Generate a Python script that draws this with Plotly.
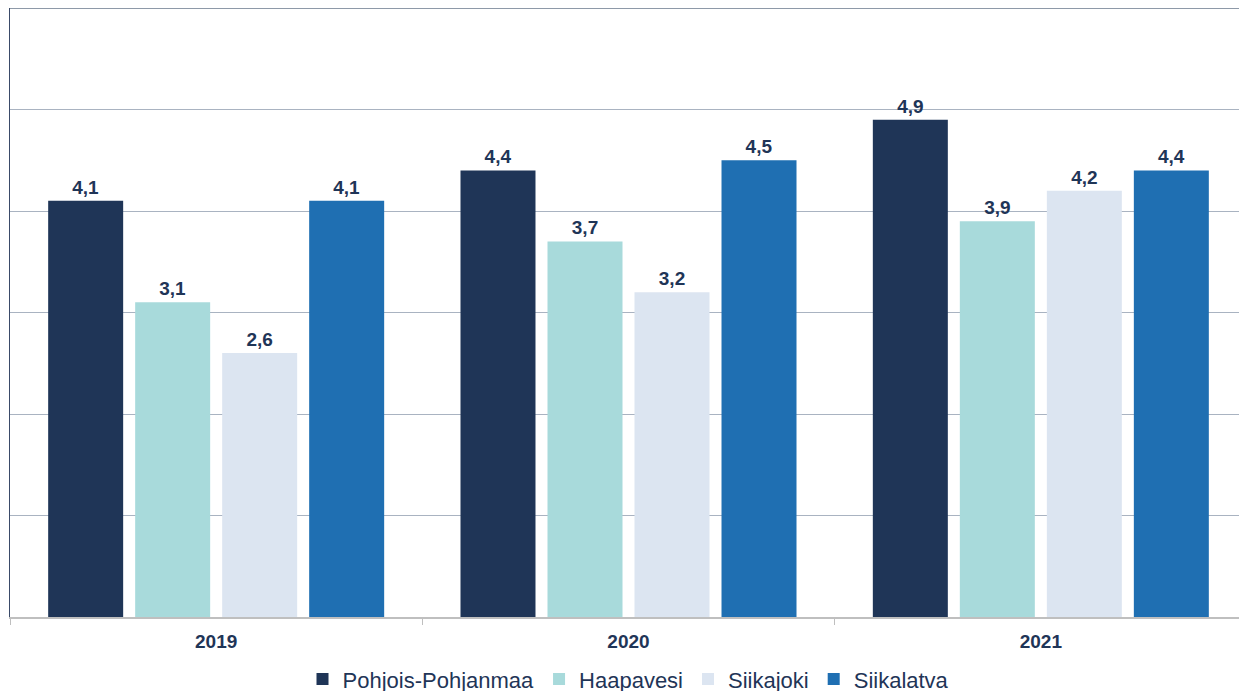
import plotly.graph_objects as go

years = ["2019", "2020", "2021"]
series_names = ["Pohjois-Pohjanmaa", "Haapavesi", "Siikajoki", "Siikalatva"]
pohjois_pohjanmaa = [4.1, 4.4, 4.9]
haapavesi = [3.1, 3.7, 3.9]
siikajoki = [2.6, 3.2, 4.2]
siikalatva = [4.1, 4.5, 4.4]
colors = ["#1F3557", "#A8DADB", "#DCE5F1", "#1F6FB2"]

values = [pohjois_pohjanmaa, haapavesi, siikajoki, siikalatva]

fig = go.Figure()
for name, vals, col in zip(series_names, values, colors):
    fig.add_trace(go.Bar(
        x=years, y=vals, name=name,
        marker=dict(color=col, line=dict(width=0)),
        text=[f"{v:.1f}".replace(".", ",") for v in vals],
        textposition="outside",
        textfont=dict(family="Liberation Sans, Arial", size=19, color="#1F3557"),
        texttemplate="<b>%{text}</b>",
        cliponaxis=False,
    ))

fig.add_shape(type="line", xref="paper", yref="paper", x0=0, x1=1, y0=1, y1=1,
              line=dict(color="#8E99A8", width=2))

fig.update_layout(
    width=1239, height=683,
    margin=dict(l=2, r=0, t=0, b=74, autoexpand=False),
    paper_bgcolor="white", plot_bgcolor="white",
    barmode="group", bargap=0.156, bargroupgap=0.138,
    font=dict(family="Liberation Sans, Arial", color="#1F3557"),
    showlegend=True,
    legend=dict(orientation="h", x=0.5, xanchor="center", y=-0.102, yanchor="middle",
                font=dict(size=22, color="#1F3557"), itemwidth=30, traceorder="normal"),
    xaxis=dict(type="category", tickson="boundaries", ticks="outside", ticklen=6,
               tickcolor="#BFBFBF", showline=True, linecolor="#BFBFBF", linewidth=2,
               tickfont=dict(size=19, color="#1F3557"), ticklabelstandoff=6,
               tickvals=years, ticktext=[f"<b>{y}</b>" for y in years],
               showgrid=False, zeroline=False, automargin=False),
    yaxis=dict(range=[0, 6], dtick=1, showticklabels=False, showgrid=True,
               gridcolor="#A9B3C1", gridwidth=1, zeroline=False, automargin=False,
               showline=True, linecolor="#3A4A68", linewidth=1, ticks=""),
)

fig.write_html("out.html")
